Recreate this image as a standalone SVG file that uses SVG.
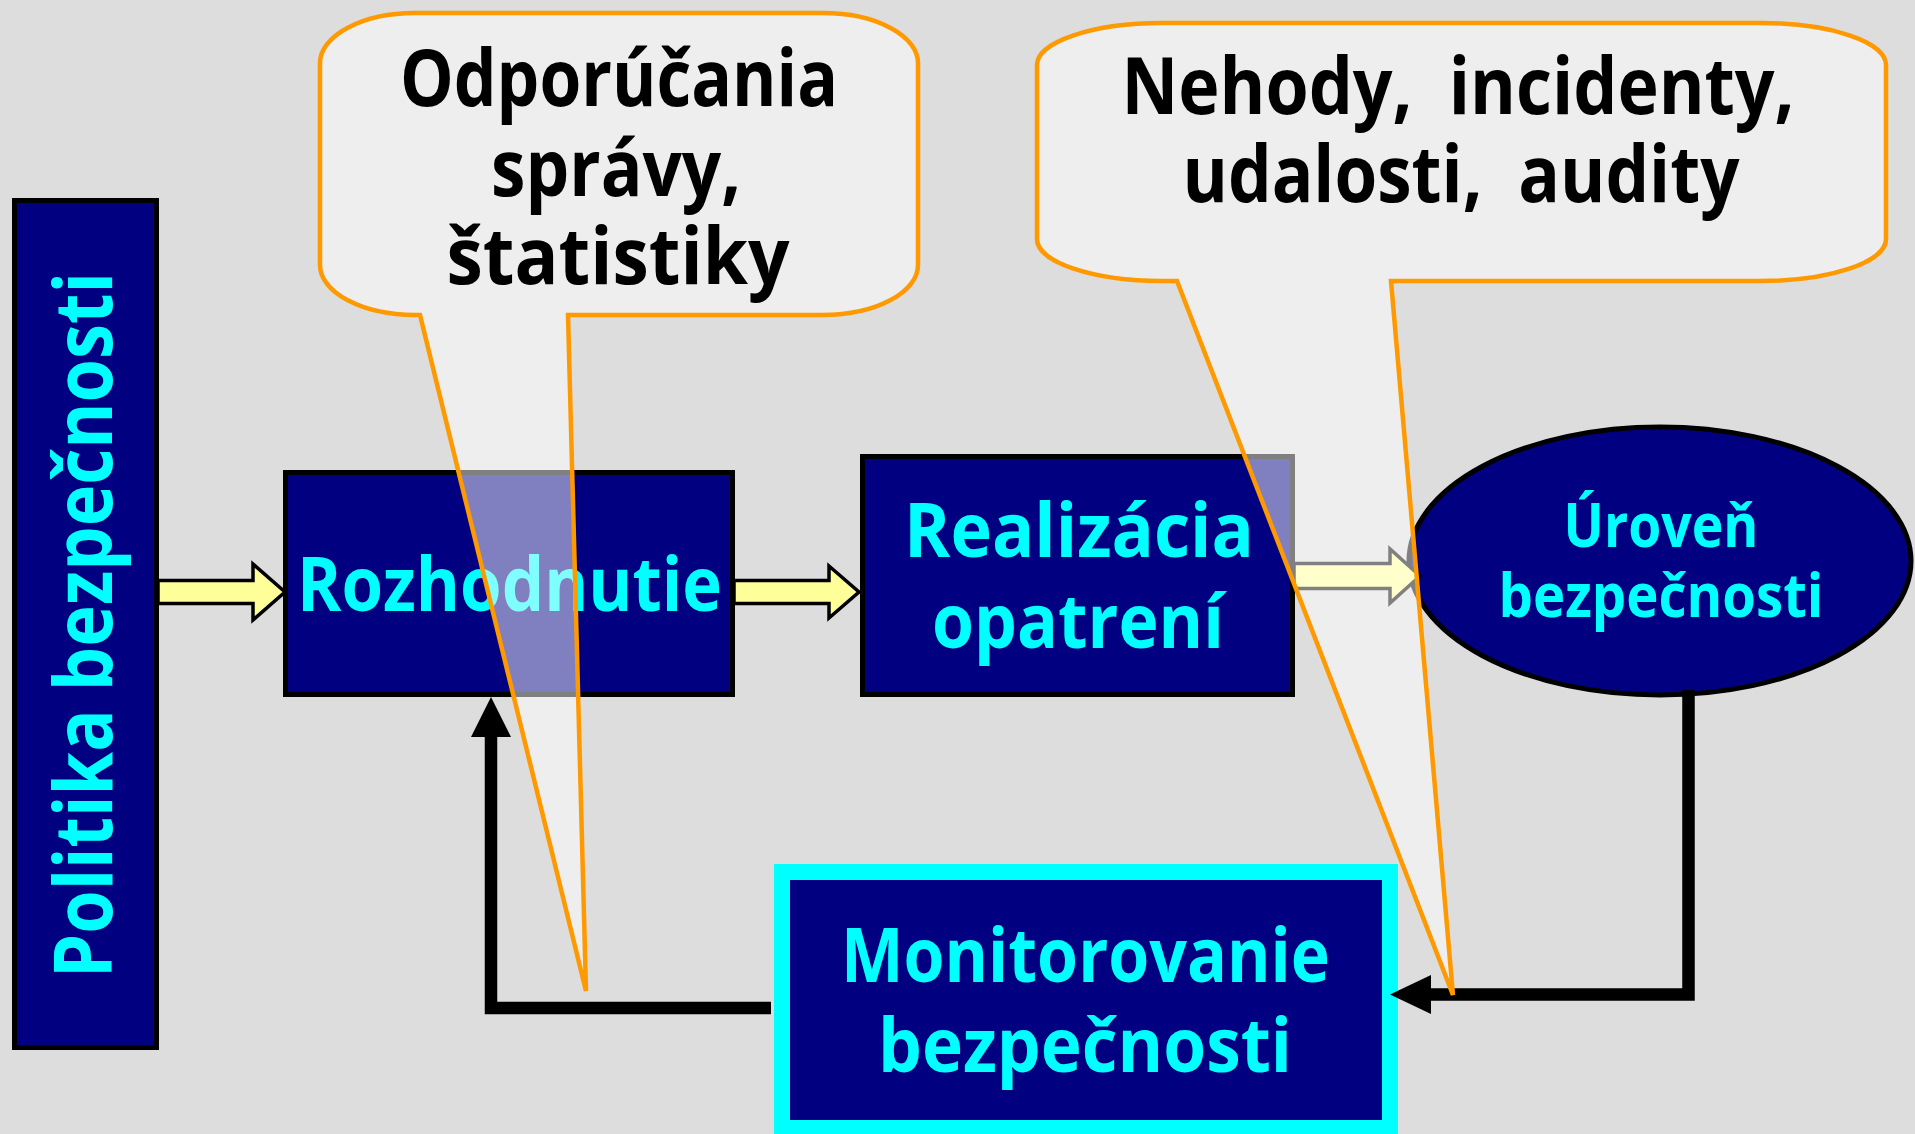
<svg xmlns="http://www.w3.org/2000/svg" width="1915" height="1134" viewBox="0 0 1915 1134">
  <style>
    .node { fill: #000080; stroke: #000000; stroke-width: 5; }
    .lbl { font-family: "Comic Sans MS", "Open Sans", sans-serif; font-weight: 700; fill: #00FFFF; text-anchor: middle; }
    .ctext { font-family: "Comic Sans MS", "Open Sans", sans-serif; font-weight: 700; fill: #000000; text-anchor: middle; }
    .blk { fill: #FFFF99; stroke: #000000; stroke-width: 3.5; stroke-linejoin: miter; }
    .fb { fill: none; stroke: #000000; stroke-width: 12.5; stroke-linejoin: miter; stroke-linecap: butt; }
    .head { fill: #000000; stroke: none; }
    .callout { fill: #FFFFFF; fill-opacity: 0.5; stroke: #FF9900; stroke-width: 4.5; stroke-linejoin: miter; }
  </style>
  <rect x="0" y="0" width="1915" height="1134" fill="#DDDDDD"/>

  <g id="politika">
    <rect class="node" x="14.5" y="200.5" width="142" height="847"/>
    <text class="lbl" font-size="80" transform="translate(112,625) rotate(-90)" x="0" y="0" textLength="706" lengthAdjust="spacingAndGlyphs">Politika bezpečnosti</text>
  </g>

  <g id="rozhodnutie">
    <rect class="node" x="285.5" y="472.5" width="447" height="222"/>
    <text class="lbl" font-size="76" x="509.5" y="611" textLength="425" lengthAdjust="spacingAndGlyphs">Rozhodnutie</text>
  </g>

  <g id="realizacia">
    <rect class="node" x="862.5" y="456.5" width="430" height="238"/>
    <text class="lbl" font-size="76" x="1079" y="557" textLength="350" lengthAdjust="spacingAndGlyphs">Realizácia</text>
    <text class="lbl" font-size="76" x="1078" y="648" textLength="292" lengthAdjust="spacingAndGlyphs">opatrení</text>
  </g>

  <g id="uroven">
    <ellipse class="node" cx="1660" cy="561" rx="251" ry="134"/>
    <text class="lbl" font-size="61" x="1661" y="547" textLength="195" lengthAdjust="spacingAndGlyphs">Úroveň</text>
    <text class="lbl" font-size="61" x="1661" y="617" textLength="325" lengthAdjust="spacingAndGlyphs">bezpečnosti</text>
  </g>

  <g id="monitorovanie">
    <rect x="782" y="872" width="608" height="256" fill="#000080" stroke="#00FFFF" stroke-width="16"/>
    <text class="lbl" font-size="76" x="1085.5" y="982" textLength="489" lengthAdjust="spacingAndGlyphs">Monitorovanie</text>
    <text class="lbl" font-size="76" x="1085" y="1072" textLength="414" lengthAdjust="spacingAndGlyphs">bezpečnosti</text>
  </g>

  <g id="connectors">
    <polygon class="blk" points="158,580.5 253,580.5 253,564 285,592 253,620 253,603.5 158,603.5"/>
    <polygon class="blk" points="734,580.5 829,580.5 829,566 859,592 829,618 829,603.5 734,603.5"/>
    <polygon class="blk" points="1294,563.5 1390,563.5 1390,549 1420,576 1390,603 1390,588.5 1294,588.5"/>
    <polyline class="fb" points="771,1008 491,1008 491,735"/>
    <polygon class="head" points="471,737 511,737 491,697"/>
    <polyline class="fb" points="1688.5,690 1688.5,994.5 1429,994.5"/>
    <polygon class="head" points="1431,975 1431,1014 1390,994.5"/>
  </g>

  <g id="callout-odporucania">
    <path class="callout" d="M 415,13 H 823 A 95 50 0 0 1 918 63 V 265 A 95 50 0 0 1 823 315 H 568 L 586 991 L 420 315 H 415 A 95 50 0 0 1 320 265 V 63 A 95 50 0 0 1 415 13 Z"/>
    <text class="ctext" font-size="78" x="619" y="106" textLength="438" lengthAdjust="spacingAndGlyphs">Odporúčania</text>
    <text class="ctext" font-size="78" x="616" y="196" textLength="250" lengthAdjust="spacingAndGlyphs">správy,</text>
    <text class="ctext" font-size="78" x="618" y="284" textLength="343" lengthAdjust="spacingAndGlyphs">štatistiky</text>
  </g>

  <g id="callout-nehody">
    <path class="callout" d="M 1162,23 H 1761 A 125 42 0 0 1 1886 65 V 239 A 125 42 0 0 1 1761 281 H 1391 L 1453 995 L 1177 281 H 1162 A 125 42 0 0 1 1037 239 V 65 A 125 42 0 0 1 1162 23 Z"/>
    <text class="ctext" font-size="78" x="1458" y="114" textLength="673" lengthAdjust="spacingAndGlyphs" xml:space="preserve">Nehody,  incidenty,</text>
    <text class="ctext" font-size="78" x="1461" y="202" textLength="557" lengthAdjust="spacingAndGlyphs" xml:space="preserve">udalosti,  audity</text>
  </g>
</svg>
